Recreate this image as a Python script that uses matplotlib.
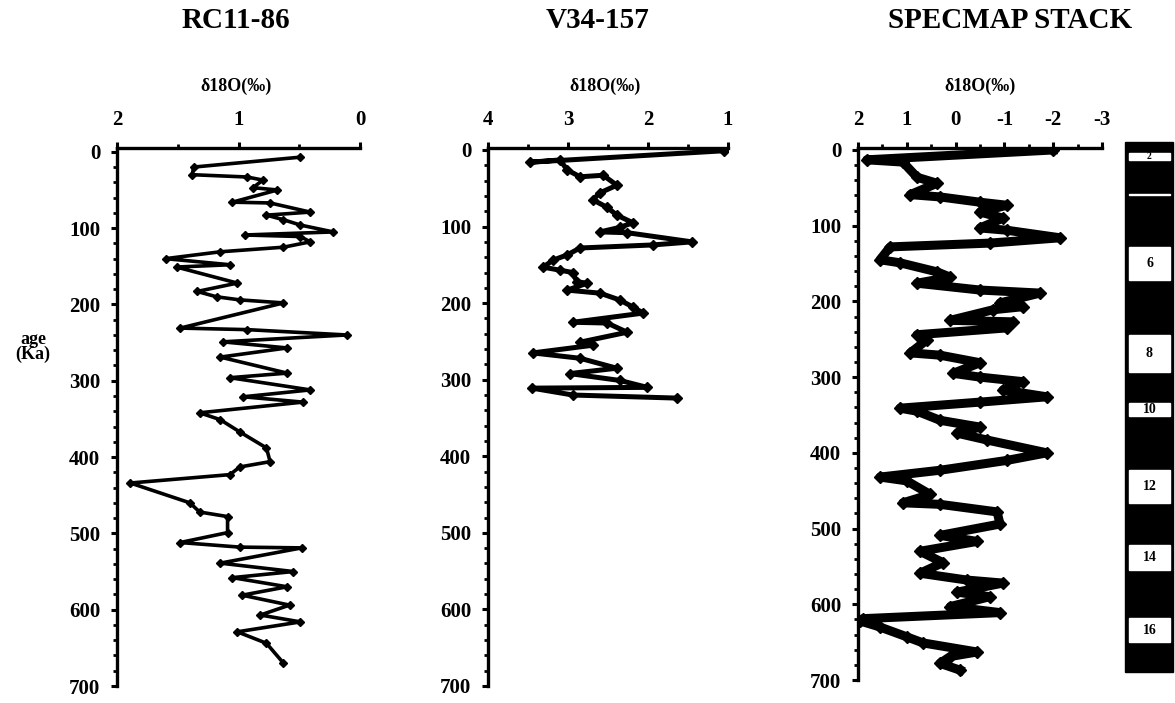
import matplotlib
matplotlib.use("Agg")
import matplotlib.pyplot as plt
from matplotlib.patches import Rectangle
from matplotlib.ticker import MultipleLocator

# delta 18O (per mil) against age (ka) for the three records
rc_d18o = [0.49, 1.37, 1.38, 0.93, 0.80, 0.88, 0.68, 1.05, 0.74, 0.41, 0.77, 0.63,
           0.49, 0.22, 0.95, 0.49, 0.41, 0.63, 1.15, 1.60, 1.07, 1.51, 1.01, 1.34,
           1.18, 0.99, 0.63, 1.48, 0.93, 0.11, 1.13, 0.60, 1.15, 0.60, 1.07, 0.41,
           0.96, 0.47, 1.32, 1.15, 0.99, 0.77, 0.74, 0.99, 1.07, 1.89, 1.40, 1.32,
           1.09, 1.09, 1.48, 0.99, 0.48, 1.15, 0.55, 1.05, 0.60, 0.97, 0.58, 0.82,
           0.49, 1.01, 0.77, 0.63]
rc_age = [7, 20, 30, 33, 37, 47, 50, 66, 67, 79, 83, 89,
          96, 105, 109, 111, 118, 125, 131, 140, 148, 151, 172, 183,
          190, 194, 198, 231, 233, 240, 249, 257, 269, 290, 296, 312,
          321, 328, 342, 351, 367, 388, 406, 413, 423, 434, 460, 472,
          478, 499, 512, 518, 519, 539, 550, 558, 570, 581, 594, 607,
          616, 629, 644, 670]

v34_d18o = [1.05, 3.48, 3.10, 3.01, 2.85, 2.56, 2.39, 2.60, 2.69, 2.51, 2.39, 2.19,
            2.35, 2.60, 2.26, 1.45, 1.94, 2.85, 3.01, 3.19, 3.31, 3.10, 2.94, 2.89,
            2.76, 3.01, 2.60, 2.35, 2.19, 2.06, 2.94, 2.51, 2.26, 2.85, 2.69, 3.44,
            2.85, 2.39, 2.98, 2.35, 2.01, 3.45, 2.94, 1.64]
v34_age = [1, 16, 13, 26, 35, 33, 46, 56, 65, 75, 85, 95,
           101, 107, 108, 120, 124, 128, 137, 144, 153, 157, 160, 172,
           174, 183, 187, 196, 205, 213, 225, 226, 238, 251, 255, 265,
           272, 285, 292, 301, 310, 311, 320, 324]

spec_d18o = [-2.00, 1.82, 1.08, 0.79, 0.38, 0.93, 0.32, -0.50, -1.05, -0.50, -0.97, -0.50,
             -1.05, -2.14, -0.70, 1.34, 1.55, 1.14, 0.38, 0.11, 0.79, -0.50, -1.73, -0.91,
             -1.38, -0.77, 0.11, -1.18, -1.05, 0.79, 0.59, 0.93, 0.32, -0.50, 0.05, -0.50,
             -1.38, -0.97, -1.87, -0.50, 1.14, 0.79, 0.32, -0.50, -0.03, -0.64, -1.87, -1.05,
             0.32, 1.55, 1.00, 0.52, 1.08, 0.32, -0.85, -0.91, 0.32, -0.44, 0.73, 0.26,
             0.73, -0.23, -0.97, -0.03, -0.70, 0.11, -0.91, 1.90, 1.96, 1.55, 1.00, 0.67,
             -0.44, 0.11, 0.32, -0.09]
spec_age = [0, 13, 16, 36, 44, 59, 62, 69, 73, 82, 90, 103,
            106, 116, 123, 128, 145, 149, 161, 168, 176, 185, 189, 202,
            207, 211, 225, 227, 235, 244, 251, 268, 271, 281, 295, 300,
            306, 317, 326, 333, 341, 345, 357, 366, 374, 383, 400, 410,
            423, 432, 437, 455, 466, 468, 478, 494, 509, 517, 530, 545,
            559, 568, 572, 584, 590, 603, 611, 619, 622, 630, 643, 651,
            663, 669, 678, 687]

# marine isotope stage boxes on the right-hand bar (ka)
stage_labels = ["2", "", "6", "8", "10", "12", "14", "16"]
stage_top = [4, 58, 128, 244, 334, 423, 522, 618]
stage_bottom = [13, 60, 172, 293, 352, 466, 555, 650]

W, H = 1175, 703
plt.rcParams["font.family"] = ["Liberation Serif", "DejaVu Serif"]
plt.rcParams["font.weight"] = "bold"
plt.rcParams["axes.unicode_minus"] = False

fig = plt.figure(figsize=(W / 100, H / 100), dpi=100)


def add_px_axes(x0, x1, ytop, ybot):
    return fig.add_axes([x0 / W, 1 - ybot / H, (x1 - x0) / W, (ybot - ytop) / H])


def style_panel(ax, xlim, ylim, xticks):
    ax.set_xlim(*xlim)
    ax.set_ylim(*ylim)
    ax.xaxis.tick_top()
    ax.set_xticks(xticks)
    ax.set_yticks(range(0, 701, 100))
    ax.xaxis.set_minor_locator(MultipleLocator(0.5))
    ax.yaxis.set_minor_locator(MultipleLocator(20))
    for side in ("right", "bottom"):
        ax.spines[side].set_visible(False)
    for side in ("left", "top"):
        ax.spines[side].set_linewidth(2.4)
    ax.tick_params(which="major", length=4, width=2.2, labelsize=15, pad=9)
    ax.tick_params(axis="y", which="major", pad=8)
    ax.tick_params(which="minor", length=3, width=2.0)
    ax.set_facecolor("none")


# RC11-86
ax1 = add_px_axes(117, 360, 148, 686)
ax1.plot(rc_d18o, rc_age, color="black", lw=2.6, marker="D", ms=4.5)
style_panel(ax1, (2, 0), (700, -5), [2, 1, 0])

# V34-157
ax2 = add_px_axes(488, 728, 148, 686)
ax2.plot(v34_d18o, v34_age, color="black", lw=3.6, marker="D", ms=5)
style_panel(ax2, (4, 1), (700, -2.6), [4, 3, 2, 1])

# SPECMAP stack
ax3 = add_px_axes(858, 1102, 148, 680)
ax3.plot(spec_d18o, spec_age, color="black", lw=6.5, marker="D", ms=6.5)
style_panel(ax3, (2, -3), (700, -2.6), [2, 1, 0, -1, -2, -3])

# panel headings
for x, title in [(236, "RC11-86"), (598, "V34-157"), (1010, "SPECMAP STACK")]:
    fig.text(x / W, 1 - 20 / H, title, ha="center", va="center",
             fontsize=21, fontweight="bold")
for x in (236, 605, 980):
    fig.text(x / W, 1 - 86 / H, "δ18O(‰)", ha="center", va="center",
             fontsize=13, fontweight="bold")
fig.text(33 / W, 1 - 347 / H, "age\n(Ka)", ha="center", va="center",
         fontsize=13, fontweight="bold", linespacing=0.85)

# isotope stage bar
axs = add_px_axes(1125, 1173, 148, 680)
axs.set_xlim(0, 1)
axs.set_ylim(700, -2.6)
axs.axis("off")
axs.add_patch(Rectangle((0, -10.5), 1, 700.5, color="black", clip_on=False))
for lab, top, bot in zip(stage_labels, stage_top, stage_bottom):
    axs.add_patch(Rectangle((0.08, top), 0.86, bot - top, color="white", clip_on=False))
    if lab:
        axs.text(0.51, (top + bot) / 2, lab, ha="center", va="center",
                 fontsize=7 if lab == "2" else 10, fontweight="bold", color="black")

fig.savefig("out.png", dpi=100, facecolor="white")
